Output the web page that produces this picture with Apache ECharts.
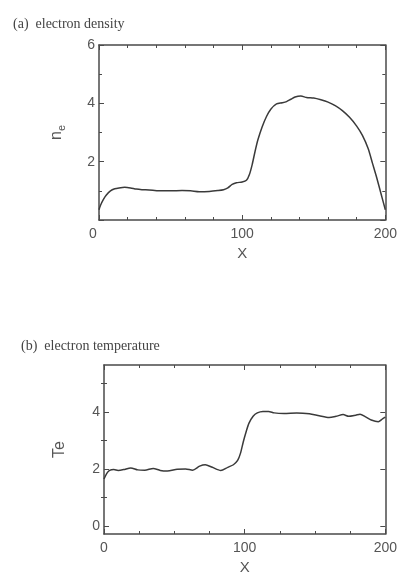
<!DOCTYPE html>
<html>
<head>
<meta charset="utf-8">
<script src="https://cdn.jsdelivr.net/npm/echarts@6/dist/echarts.min.js"></script>
<style>html,body{margin:0;padding:0;background:#fff;}#c{width:400px;height:576px;}</style>
</head>
<body>
<div id="c"></div>
<script>
// Panel (a): electron density
const neX = [0,1,3,5,8,11,14,18,22,26,30,35,42,50,58,64,70,77,83,87,90,93,96,100,103,105,107,109,111,114,117,120,124,128,131,134,137,141,145,150,155,160,165,170,175,180,184,188,191,194,197,200];
const neY = [0.35,0.5,0.7,0.85,1.0,1.07,1.1,1.12,1.1,1.06,1.04,1.03,1.0,1.0,1.01,1.0,0.97,0.98,1.01,1.04,1.1,1.22,1.28,1.3,1.36,1.55,1.9,2.35,2.75,3.2,3.55,3.8,3.98,4.02,4.06,4.14,4.22,4.25,4.2,4.18,4.12,4.04,3.92,3.75,3.52,3.22,2.9,2.45,1.95,1.45,0.9,0.35];
// Panel (b): electron temperature
const teX = [0,2,4,7,10,14,19,24,29,35,40,45,52,58,63,68,72,77,83,88,92,95,97,99,101,103,106,109,113,117,121,128,137,146,153,160,165,170,174,179,182,186,190,195,198,200];
const teY = [1.65,1.85,1.95,1.98,1.95,1.98,2.04,1.97,1.96,2.02,1.95,1.93,1.99,2.0,1.96,2.1,2.15,2.06,1.95,2.06,2.15,2.3,2.55,2.95,3.3,3.6,3.85,3.97,4.02,4.02,3.97,3.95,3.97,3.94,3.87,3.81,3.85,3.91,3.85,3.89,3.92,3.83,3.72,3.66,3.76,3.82];
const teMajorTicks = [0, 2, 4];
const teMinorTicks = [1, 3, 5];
const titles = ['(a)  electron density', '(b)  electron temperature'];

const ink = '#4a4a4a';
const txt = '#555';
const sans = 'Liberation Sans, Arial, sans-serif';

function xAx(grid, pos, minorSplit, showLabels, shiftZero) {
  return {
    type: 'value', gridIndex: grid, position: pos, min: 0, max: 200, interval: 100,
    axisLine: { show: true, onZero: false, lineStyle: { color: ink, width: 1.5 } },
    axisTick: { show: true, inside: true, length: 5, lineStyle: { color: ink, width: 1 } },
    minorTick: { show: true, splitNumber: minorSplit, length: 3, lineStyle: { color: ink, width: 1 } },
    splitLine: { show: false },
    axisLabel: showLabels ? {
      show: true, margin: 7, fontFamily: sans, fontSize: 14, color: txt,
      formatter: v => (shiftZero && v === 0) ? '{z|0}' : String(v),
      rich: { z: { fontFamily: sans, fontSize: 14, color: txt, padding: [0, 12, 0, 0] } }
    } : { show: false },
    name: showLabels ? 'X' : '', nameLocation: 'middle', nameGap: 26,
    nameTextStyle: { fontFamily: sans, fontSize: 15, color: txt }
  };
}

const option = {
  animation: false,
  backgroundColor: '#fff',
  title: [
    { text: titles[0], left: 8, top: 12, textStyle: { fontFamily: 'Liberation Serif, serif', fontSize: 14, fontWeight: 'normal', color: '#444' } },
    { text: titles[1], left: 16, top: 334, textStyle: { fontFamily: 'Liberation Serif, serif', fontSize: 14, fontWeight: 'normal', color: '#444' } }
  ],
  grid: [
    { left: 99, top: 45, width: 287, height: 175 },
    { left: 104, top: 365, width: 287, height: 174 }
  ],
  xAxis: [
    xAx(0, 'bottom', 5, true, true),
    xAx(0, 'top', 5, false, false),
    xAx(1, 'bottom', 4, true, false),
    xAx(1, 'top', 4, false, false)
  ],
  yAxis: [
    { type: 'value', gridIndex: 0, position: 'left', min: 0, max: 6, interval: 2,
      axisLine: { show: true, onZero: false, lineStyle: { color: ink, width: 1.5 } },
      axisTick: { show: true, inside: true, length: 5, lineStyle: { color: ink } },
      minorTick: { show: true, splitNumber: 2, length: 3, lineStyle: { color: ink } },
      splitLine: { show: false },
      axisLabel: { margin: 4, fontFamily: sans, fontSize: 14, color: txt, showMinLabel: false },
      name: '{n|n}{s|e}', nameLocation: 'middle', nameGap: 30,
      nameTextStyle: { fontFamily: sans, fontSize: 15, color: txt, rich: {
        n: { fontFamily: sans, fontSize: 16, color: txt, padding: [0, 0, 4, 0] },
        s: { fontFamily: sans, fontSize: 11, color: txt, padding: [6, 0, 0, 0] }
      } } },
    { type: 'value', gridIndex: 0, position: 'right', min: 0, max: 6, interval: 2,
      axisLine: { show: true, onZero: false, lineStyle: { color: ink, width: 1.5 } },
      axisTick: { show: true, inside: true, length: 5, lineStyle: { color: ink } },
      minorTick: { show: true, splitNumber: 2, length: 3, lineStyle: { color: ink } },
      splitLine: { show: false }, axisLabel: { show: false } },
    { type: 'value', gridIndex: 1, position: 'left', min: -0.28, max: 5.65,
      axisLine: { show: true, onZero: false, lineStyle: { color: ink, width: 1.5 } },
      axisTick: { show: true, inside: true, length: 5, customValues: teMajorTicks, lineStyle: { color: ink } },
      splitLine: { show: false },
      axisLabel: { margin: 4, fontFamily: sans, fontSize: 14, color: txt, customValues: teMajorTicks },
      name: 'Te', nameLocation: 'middle', nameGap: 36,
      nameTextStyle: { fontFamily: sans, fontSize: 16, color: txt } },
    { type: 'value', gridIndex: 1, position: 'right', min: -0.28, max: 5.65,
      axisLine: { show: true, onZero: false, lineStyle: { color: ink, width: 1.5 } },
      axisTick: { show: true, inside: true, length: 5, customValues: teMajorTicks, lineStyle: { color: ink } },
      splitLine: { show: false }, axisLabel: { show: false } },
    { type: 'value', gridIndex: 1, position: 'left', min: -0.28, max: 5.65,
      axisLine: { show: false },
      axisTick: { show: true, inside: true, length: 3, customValues: teMinorTicks, lineStyle: { color: ink } },
      splitLine: { show: false }, axisLabel: { show: false } },
    { type: 'value', gridIndex: 1, position: 'right', min: -0.28, max: 5.65,
      axisLine: { show: false },
      axisTick: { show: true, inside: true, length: 3, customValues: teMinorTicks, lineStyle: { color: ink } },
      splitLine: { show: false }, axisLabel: { show: false } }
  ],
  series: [
    { type: 'line', xAxisIndex: 0, yAxisIndex: 0, data: neX.map((x, i) => [x, neY[i]]),
      smooth: 0.25, showSymbol: false, lineStyle: { color: '#3a3a3a', width: 1.5 } },
    { type: 'line', xAxisIndex: 2, yAxisIndex: 2, data: teX.map((x, i) => [x, teY[i]]),
      smooth: 0.25, showSymbol: false, lineStyle: { color: '#3a3a3a', width: 1.5 } }
  ]
};
const chart = echarts.init(document.getElementById('c'), null, { renderer: 'canvas' });
chart.setOption(option);
</script>
</body>
</html>
